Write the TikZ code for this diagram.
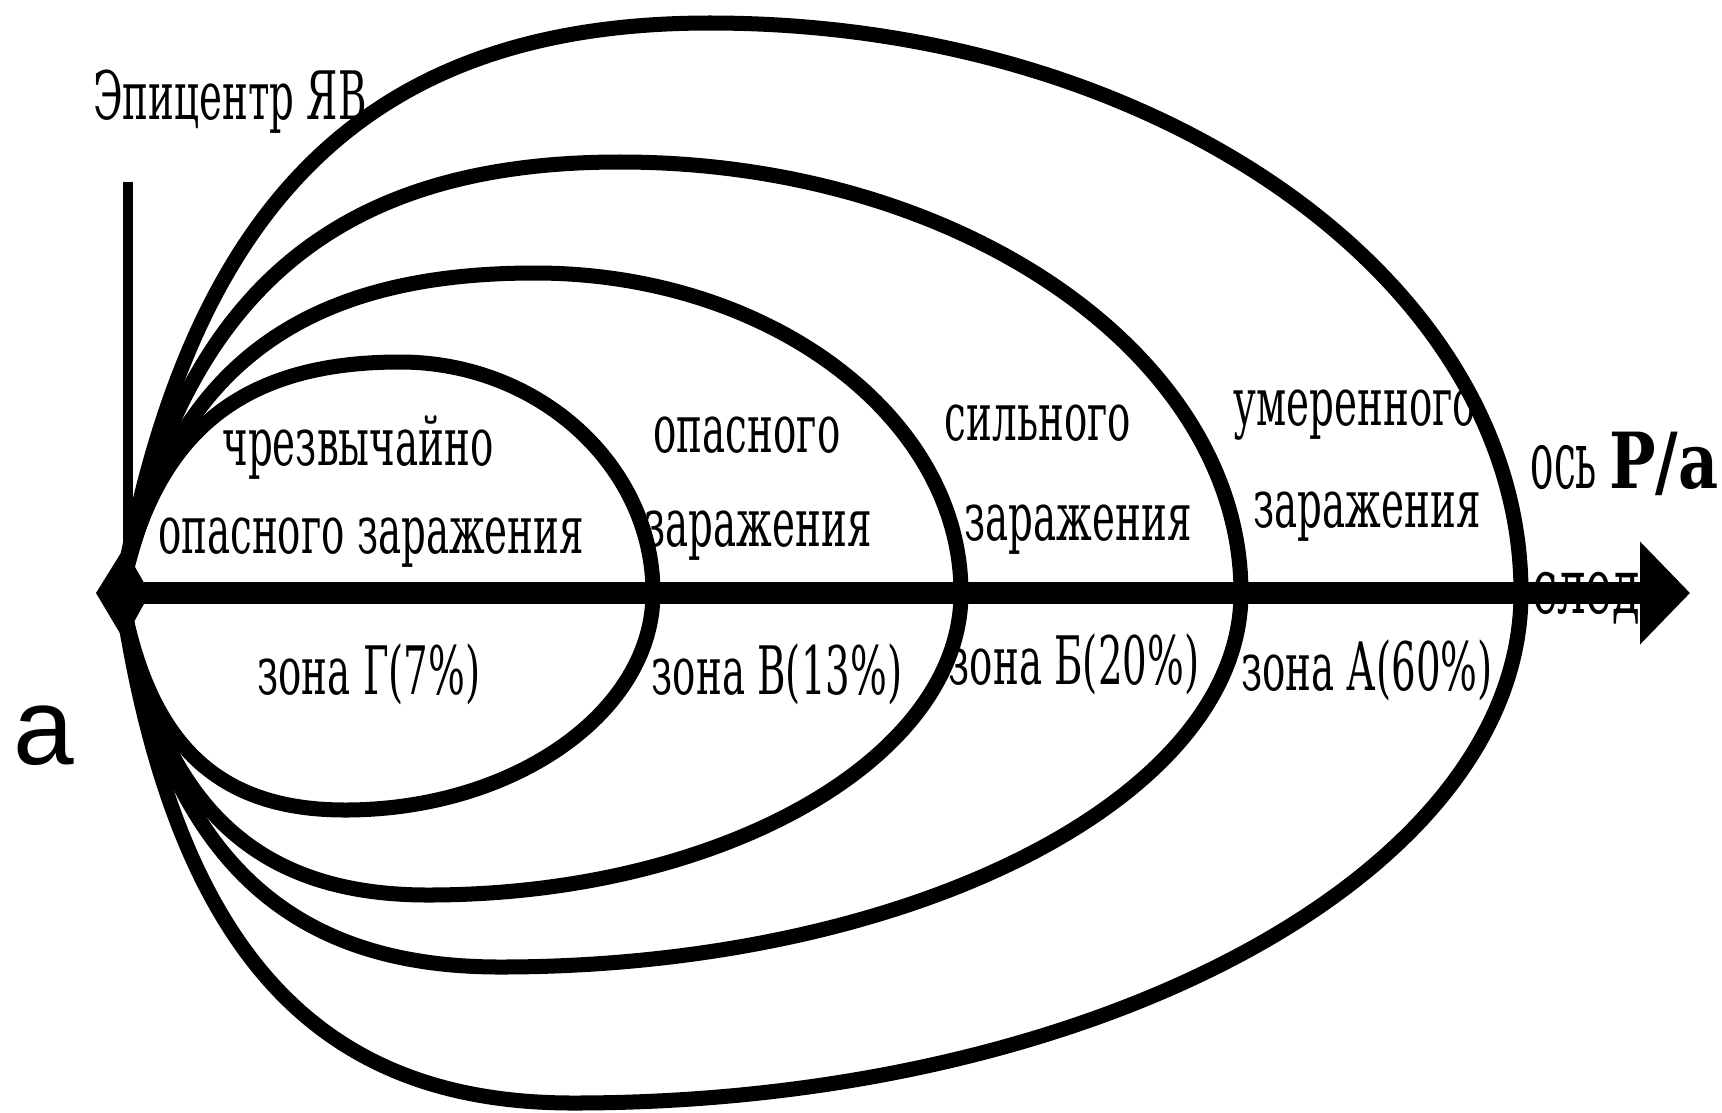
\documentclass[tikz,border=0pt]{standalone}
\usepackage{fontspec}
\newfontfamily\zonefont[FakeStretch=0.58]{DejaVu Serif}
\newfontfamily\narrowfont[FakeStretch=0.48]{DejaVu Serif}
\newfontfamily\axisfont[FakeStretch=0.8]{DejaVu Serif}
\newfontfamily\bigsans{Liberation Sans}
\usetikzlibrary{arrows.meta}
\tikzset{
  zone/.style={line width=0.15cm},
  lbl/.style={font=\zonefont\fontsize{19}{22}\selectfont, inner sep=0pt},
}
\begin{document}
\begin{tikzpicture}[x=0.01cm,y=-0.01cm]
\useasboundingbox (0,0) rectangle (1722,1112);
\coordinate (epi) at (121,593);
\coordinate (tip) at (1690,593);
\coordinate (mast) at (128,182);

% trace word under the axis
\node[lbl, font=\zonefont\fontsize{22}{24}\selectfont] (trace) at (1586,598) {след};

% zones, inner to outer
\draw[zone] (epi) .. controls (154,427) and (247,362) .. (400,362)
  .. controls (539,362) and (653,466) .. (653,593)
  .. controls (653,712) and (514,810) .. (345,810)
  .. controls (222,810) and (148,749) .. (epi);
\draw[zone] (epi) .. controls (171,363) and (307,273) .. (535,273)
  .. controls (769,273) and (961,417) .. (961,593)
  .. controls (961,759) and (721,895) .. (428,895)
  .. controls (259,895) and (158,810) .. (epi);
\draw[zone] (epi) .. controls (181,283) and (346,162) .. (620,162)
  .. controls (962,162) and (1241,356) .. (1241,593)
  .. controls (1241,799) and (908,967) .. (500,967)
  .. controls (292,967) and (166,862) .. (epi);
\draw[zone] (epi) .. controls (192,183) and (386,23) .. (710,23)
  .. controls (1156,23) and (1521,279) .. (1521,593)
  .. controls (1521,874) and (1094,1103) .. (573,1103)
  .. controls (324,1103) and (175,960) .. (epi);

% axis and epicentre
\draw[line width=0.22cm, -{Triangle[length=0.5cm,width=1cm]}] (epi) -- (tip);
\draw[line width=0.09cm] (mast) -- (128,593);
\fill (96,593) -- (124,548) -- (150,593) -- (124,640) -- cycle;

\node[lbl] (epilbl) at (230,102) {Эпицентр ЯВ};

\node[lbl] (g1) at (358,448) {чрезвычайно};
\node[lbl] (g2) at (371,543) {опасного заражения};
\node[lbl] (g3) at (369,674) {зона Г(7\%)};

\node[lbl] (v1) at (747,435) {опасного};
\node[lbl] (v2) at (758,536) {заражения};
\node[lbl] (v3) at (777,674) {зона В(13\%)};

\node[lbl] (b1) at (1038,423) {сильного};
\node[lbl] (b2) at (1078,530) {заражения};
\node[lbl] (b3) at (1074,664) {зона Б(20\%)};

\node[lbl] (a1) at (1355,415) {умеренного};
\node[lbl] (a2) at (1367,517) {заражения};
\node[lbl] (a3) at (1367,670) {зона А(60\%)};

\node[inner sep=0pt, anchor=base west] (axislbl) at (1530,488)
  {\narrowfont\fontsize{23}{25}\selectfont ось \axisfont\bfseries\fontsize{22}{24}\selectfont Р/а};

\node[inner sep=0pt, font=\bigsans\fontsize{31}{34}\selectfont] (part) at (44,736) {а};
\end{tikzpicture}
\end{document}
